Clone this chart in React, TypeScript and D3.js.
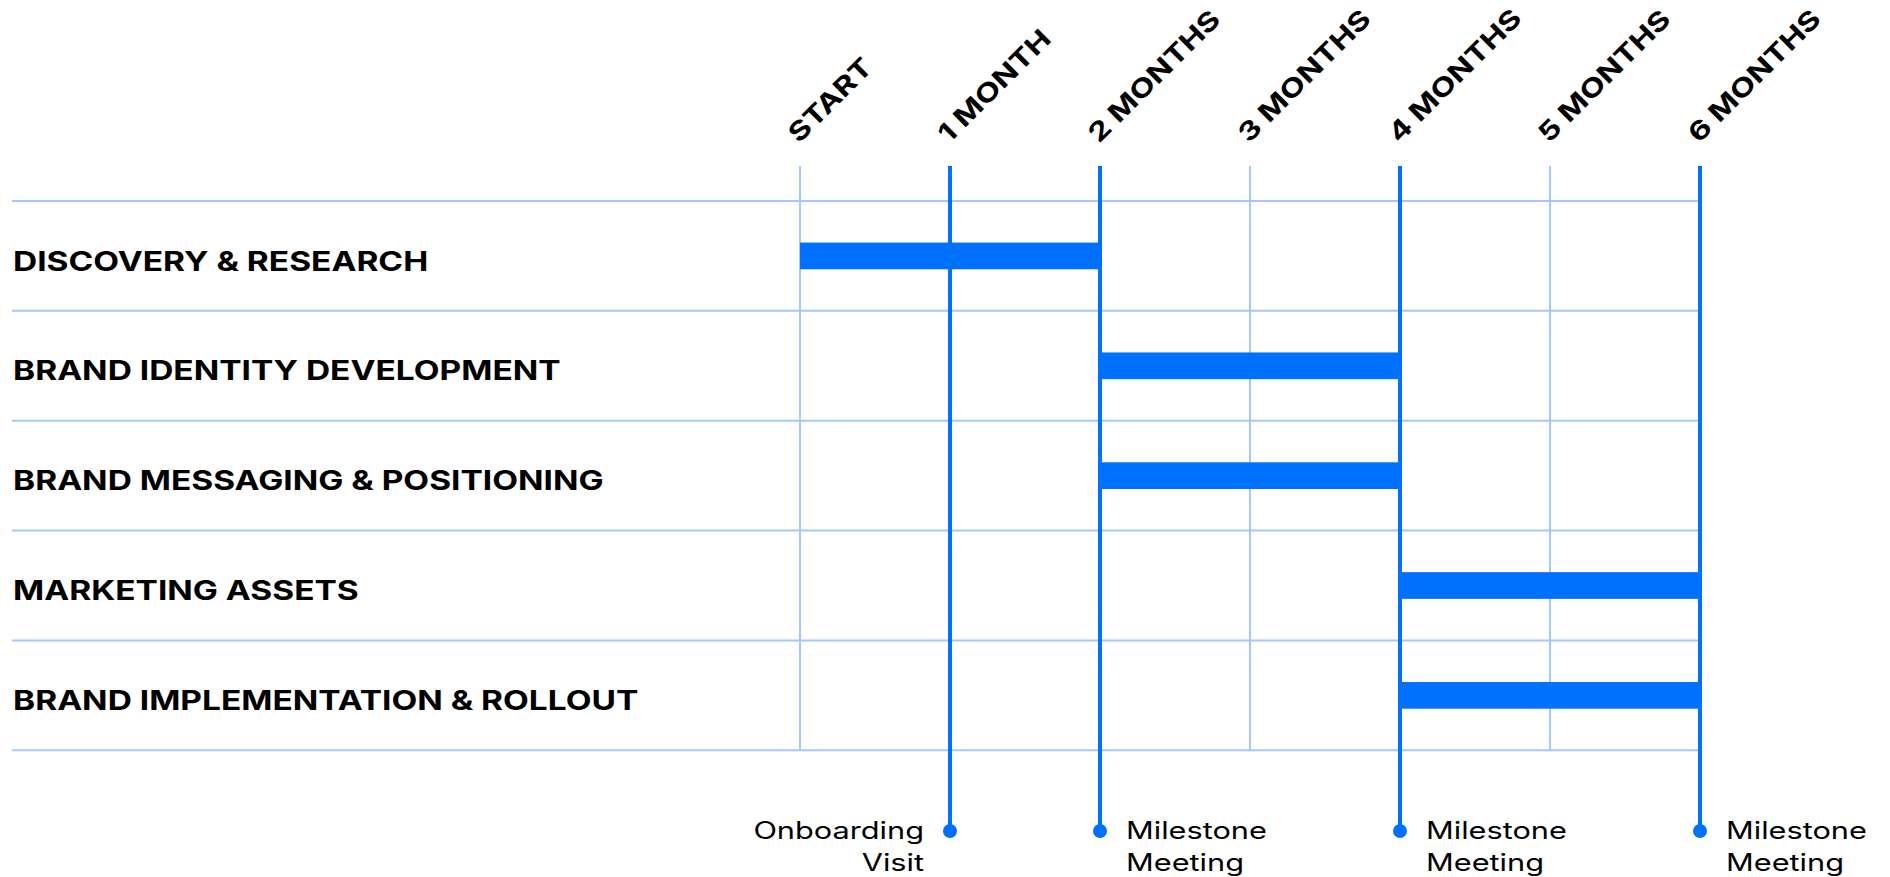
import React from "react";
import * as d3 from "d3";

const timeLabels = ["START", "1 MONTH", "2 MONTHS", "3 MONTHS", "4 MONTHS", "5 MONTHS", "6 MONTHS"];
const milestoneMonths = [1, 2, 4, 6];
const phases = [
  "DISCOVERY & RESEARCH",
  "BRAND IDENTITY DEVELOPMENT",
  "BRAND MESSAGING & POSITIONING",
  "MARKETING ASSETS",
  "BRAND IMPLEMENTATION & ROLLOUT",
];
const phaseStart = [0, 2, 2, 4, 4];
const phaseEnd = [2, 4, 4, 6, 6];
const milestoneLabels = [
  ["Onboarding", "Visit"],
  ["Milestone", "Meeting"],
  ["Milestone", "Meeting"],
  ["Milestone", "Meeting"],
];
const milestoneSide = ["left", "right", "right", "right"];

const W = 1890;
const H = 877;
const BLUE = "#0070ff";
const LIGHT = "#a3c7ff";
const FONT = "Inter, 'DejaVu Sans', sans-serif";
const BOLD_STRETCH = 1.24;
const REG_STRETCH = 1.28;

export default function App() {
  const x = d3.scaleLinear().domain([0, 6]).range([800, 1700]);
  const y = d3.scaleLinear().domain([0, phases.length]).range([201, 750.3]);
  const lineTop = 166;
  const dotY = 831;
  const barH = 26.7;
  const months = d3.range(timeLabels.length);

  return (
    <svg
      width={W}
      height={H}
      viewBox={`0 0 ${W} ${H}`}
      style={{ position: "absolute", left: 0, top: 0, background: "#fff" }}
    >
      {/* horizontal row lines */}
      {d3.range(phases.length + 1).map((i) => (
        <line
          key={"h" + i}
          x1={12}
          x2={x(6)}
          y1={y(i)}
          y2={y(i)}
          stroke={LIGHT}
          strokeWidth={2}
        />
      ))}
      {/* thin vertical lines */}
      {months
        .filter((m) => !milestoneMonths.includes(m))
        .map((m) => (
          <line
            key={"v" + m}
            x1={x(m)}
            x2={x(m)}
            y1={lineTop}
            y2={y(phases.length)}
            stroke={LIGHT}
            strokeWidth={2}
          />
        ))}
      {/* bars */}
      {phases.map((p, i) => (
        <rect
          key={"b" + i}
          x={x(phaseStart[i])}
          width={x(phaseEnd[i]) - x(phaseStart[i])}
          y={y(i + 0.5) - barH / 2}
          height={barH}
          fill={BLUE}
        />
      ))}
      {/* milestone lines */}
      {milestoneMonths.map((m) => (
        <g key={"m" + m}>
          <line x1={x(m)} x2={x(m)} y1={lineTop} y2={dotY} stroke={BLUE} strokeWidth={4} />
          <circle cx={x(m)} cy={dotY} r={7} fill={BLUE} />
        </g>
      ))}
      {/* phase labels */}
      {phases.map((p, i) => (
        <g key={"l" + i} transform={`translate(13,${y(i + 0.5) + 14.7}) scale(${BOLD_STRETCH},1)`}>
          <text fontFamily={FONT} fontWeight={700} fontSize={27} fill="#000">
            {p}
          </text>
        </g>
      ))}
      {/* time labels */}
      {timeLabels.map((t, m) => (
        <g key={"t" + m} transform={`translate(${x(m) - 1},144) rotate(-45) scale(${BOLD_STRETCH},1)`}>
          <text fontFamily={FONT} fontWeight={700} fontSize={26} fill="#000">
            {t}
          </text>
        </g>
      ))}
      {/* milestone labels */}
      {milestoneMonths.map((m, i) => {
        const left = milestoneSide[i] === "left";
        const tx = left ? x(m) - 26 : x(m) + 26;
        return (
          <g key={"ml" + i} transform={`translate(${tx},0)`}>
            {milestoneLabels[i].map((s, j) => (
              <g key={j} transform={`translate(0,${839.3 + j * 31.4}) scale(${REG_STRETCH},1)`}>
                <text
                  fontFamily={FONT}
                  fontWeight={400}
                  fontSize={24}
                  fill="#000"
                  textAnchor={left ? "end" : "start"}
                >
                  {s}
                </text>
              </g>
            ))}
          </g>
        );
      })}
    </svg>
  );
}
